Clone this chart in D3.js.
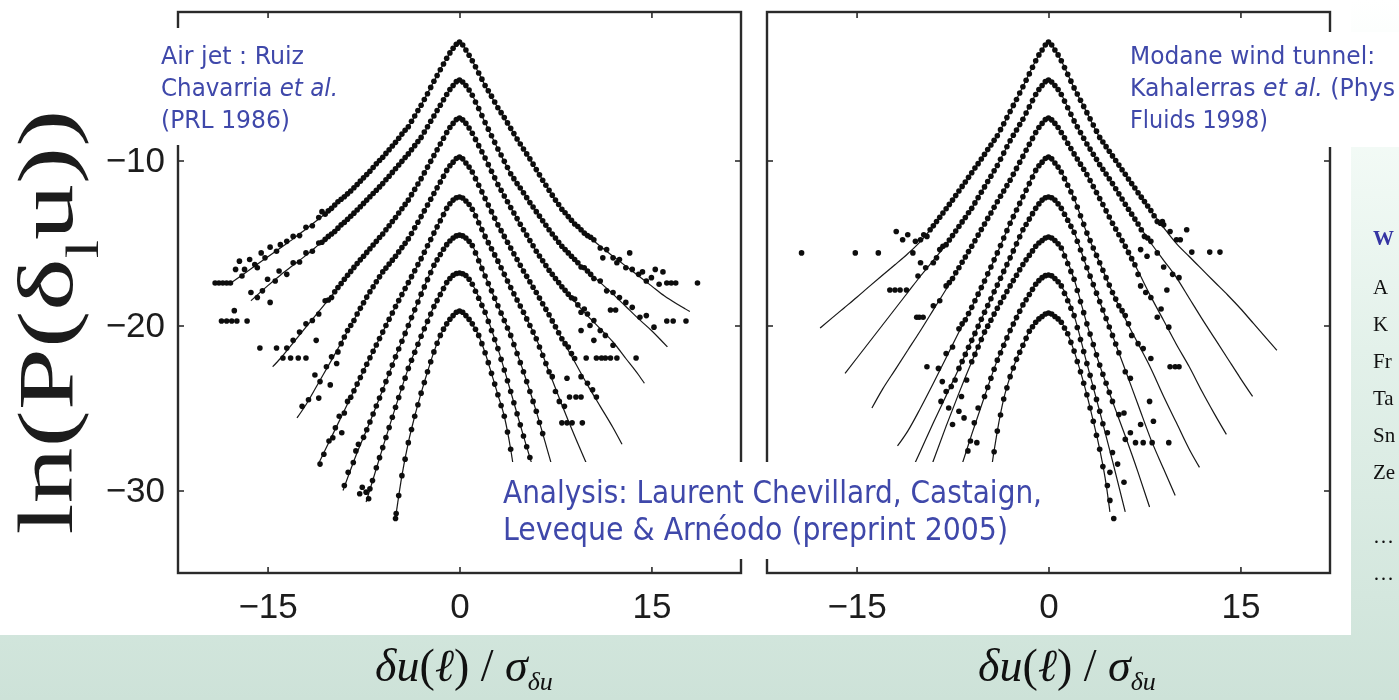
<!DOCTYPE html>
<html>
<head>
<meta charset="utf-8">
<script src="https://cdn.jsdelivr.net/npm/d3@7"></script>
<style>
  html, body { margin: 0; padding: 0; overflow: hidden; background: #fff; }
</style>
</head>
<body>
<svg id="chart" width="1399" height="700"></svg>
<script>
// ---- axes ----
const xDomain = [-22, 22];
const yDomain = [-1, -35];
const xTicks = [-15, 0, 15];
const yTicks = [-10, -20, -30];

// ---- air jet (left panel): fitted curves, one per scale ----
const jetFits = [
  [[-18.1,-17.55],[-17,-16.95],[-16,-16.4],[-15,-15.85],[-14,-15.3],[-13,-14.75],[-12,-14.15],[-11,-13.55],[-10,-12.9],[-9,-12.2],[-8,-11.45],[-7,-10.65],[-6,-9.8],[-5,-8.9],[-4,-7.95],[-3,-6.65],[-2,-5.2],[-1,-3.8],[-0.5,-3.2],[0,-2.82],[0.5,-3.3],[1,-3.95],[2,-5.45],[3,-6.8],[4,-8.05],[5,-9.3],[6,-10.55],[7,-11.8],[8,-12.95],[9,-13.85],[10,-14.55],[11,-15.2],[12,-15.8],[13,-16.4],[14,-17.0],[15,-17.6],[16,-18.2],[17,-18.7],[18,-19.15]],
  [[-16.3,-18.5],[-15,-17.6],[-14,-16.95],[-13,-16.35],[-12,-15.75],[-11,-15.1],[-10,-14.45],[-9,-13.75],[-8,-13.0],[-7,-12.2],[-6,-11.4],[-5,-10.5],[-4,-9.6],[-3,-8.6],[-2,-7.3],[-1,-6.0],[-0.5,-5.45],[0,-5.12],[0.5,-5.45],[1,-6.05],[2,-7.7],[3,-9.3],[4,-10.8],[5,-11.95],[6,-13.1],[7,-14.2],[8,-15.2],[9,-16.0],[10,-16.7],[11,-17.4],[12,-18.1],[13,-18.85],[14,-19.6],[15,-20.3],[16.25,-21.3]],
  [[-14.6,-22.5],[-14,-22.0],[-13,-21.05],[-12,-20.1],[-11,-19.15],[-10,-18.2],[-9,-17.2],[-8,-16.25],[-7,-15.35],[-6,-14.45],[-5,-13.45],[-4,-12.4],[-3,-11.1],[-2,-9.7],[-1,-8.3],[-0.5,-7.75],[0,-7.42],[0.5,-7.75],[1,-8.35],[2,-9.85],[3,-11.45],[4,-12.85],[5,-14.2],[6,-15.5],[7,-16.65],[8,-17.65],[9,-18.55],[10,-19.4],[11,-20.2],[12,-21.0],[13,-22.0],[14,-23.0],[14.45,-23.5]],
  [[-12.7,-25.6],[-12,-24.8],[-11,-23.45],[-10,-22.1],[-9,-20.7],[-8,-19.3],[-7,-17.95],[-6,-16.75],[-5,-15.8],[-4,-14.75],[-3,-13.4],[-2,-12.0],[-1,-10.6],[-0.5,-10.1],[0,-9.79],[0.5,-10.15],[1,-10.7],[2,-12.3],[3,-13.9],[4,-15.3],[5,-16.7],[6,-18.0],[7,-19.35],[8,-20.8],[9,-22.2],[10,-23.6],[11,-24.9],[12,-26.2],[12.7,-27.2]],
  [[-11,-28.35],[-10,-26.75],[-9,-25.15],[-8,-23.55],[-7,-21.95],[-6,-20.4],[-5,-18.85],[-4,-17.4],[-3,-15.95],[-2,-14.4],[-1,-12.9],[-0.5,-12.4],[0,-12.21],[0.5,-12.45],[1,-12.95],[2,-14.6],[3,-16.1],[4,-17.7],[5,-19.2],[6,-20.8],[7,-22.8],[8,-24.8],[9,-26.7],[10,-28.5],[11,-30.3]],
  [[-9.1,-30.0],[-8,-27.7],[-7,-25.85],[-6,-23.9],[-5,-21.9],[-4,-20.0],[-3,-18.1],[-2,-16.35],[-1,-15.1],[-0.5,-14.7],[0,-14.52],[0.5,-14.7],[1,-15.15],[2,-17.0],[3,-18.8],[4,-20.6],[5,-22.8],[6,-25.2],[7,-27.9],[8,-30.6]],
  [[-7.3,-30.7],[-7,-29.95],[-6,-27.4],[-5,-24.95],[-4,-22.6],[-3,-20.65],[-2,-18.85],[-1,-17.4],[-0.5,-16.95],[0,-16.82],[0.5,-16.97],[1,-17.5],[2,-19.2],[3,-21.4],[4,-24.0],[5,-26.7],[6,-29.3],[6.6,-30.8]],
  [[-4.95,-31.4],[-4.5,-29.1],[-4,-27.1],[-3.5,-25.5],[-3,-24.1],[-2.5,-22.8],[-2,-21.6],[-1.5,-20.6],[-1,-19.9],[-0.5,-19.4],[0,-19.12],[0.5,-19.4],[1,-19.9],[1.5,-20.6],[2,-21.65],[2.5,-22.9],[3,-24.2],[3.5,-25.5],[4,-27.5],[4.5,-30.1],[4.9,-32.0]]
];

// measured histogram bins: first bin centre, bin width, ln P per bin
const jetStart = [-9, -9, -9, -8, -9, -7.5, -6.5, -4.75];
const jetStep = [0.25, 0.25, 0.25, 0.25, 0.25, 0.25, 0.25, 0.25];
const jetDots = [
  [-12.2,-12.02,-11.85,-11.65,-11.45,-11.25,-11.05,-10.85,-10.65,-10.42,-10.2,-10.0,-9.8,-9.57,-9.35,-9.12,-8.9,-8.65,-8.4,-8.17,-7.95,-7.62,-7.3,-6.97,-6.65,-6.3,-5.95,-5.57,-5.2,-4.85,-4.5,-4.15,-3.8,-3.48,-3.2,-2.95,-2.82,
   -3.0,-3.3,-3.62,-3.95,-4.32,-4.7,-5.07,-5.45,-5.77,-6.1,-6.45,-6.8,-7.1,-7.4,-7.72,-8.05,-8.37,-8.7,-9.0,-9.3,-9.6,-9.9,-10.22,-10.55,-10.87,-11.2,-11.5,-11.8,-12.1,-12.4,-12.67,-12.95,-13.17,-13.4,-13.62,-13.85],
  [-13.75,-13.56,-13.38,-13.19,-13.0,-12.8,-12.6,-12.4,-12.2,-12.0,-11.8,-11.6,-11.4,-11.17,-10.95,-10.72,-10.5,-10.27,-10.05,-9.82,-9.6,-9.35,-9.1,-8.85,-8.6,-8.27,-7.95,-7.62,-7.3,-6.97,-6.65,-6.32,-6.0,-5.7,-5.45,-5.22,-5.12,
   -5.24,-5.45,-5.73,-6.05,-6.45,-6.85,-7.27,-7.7,-8.1,-8.5,-8.9,-9.3,-9.67,-10.05,-10.42,-10.8,-11.1,-11.4,-11.67,-11.95,-12.25,-12.55,-12.82,-13.1,-13.37,-13.65,-13.92,-14.2,-14.45,-14.7,-14.95,-15.2,-15.4,-15.6,-15.8,-16.0],
  [-17.2,-16.96,-16.72,-16.48,-16.25,-16.02,-15.8,-15.57,-15.35,-15.12,-14.9,-14.67,-14.45,-14.2,-13.95,-13.7,-13.45,-13.18,-12.92,-12.66,-12.4,-12.07,-11.75,-11.42,-11.1,-10.75,-10.4,-10.05,-9.7,-9.35,-9.0,-8.65,-8.3,-8.0,-7.75,-7.52,-7.42,
   -7.54,-7.75,-8.03,-8.35,-8.72,-9.1,-9.47,-9.85,-10.25,-10.65,-11.05,-11.45,-11.8,-12.15,-12.5,-12.85,-13.18,-13.52,-13.86,-14.2,-14.52,-14.85,-15.17,-15.5,-15.79,-16.08,-16.36,-16.65,-16.9,-17.15,-17.4,-17.65,-17.87,-18.1,-18.32,-18.4],
  [-19.3,-18.96,-18.62,-18.28,-17.95,-17.65,-17.35,-17.05,-16.75,-16.52,-16.28,-16.04,-15.8,-15.54,-15.28,-15.02,-14.75,-14.42,-14.08,-13.74,-13.4,-13.05,-12.7,-12.35,-12.0,-11.65,-11.3,-10.95,-10.6,-10.32,-10.1,-9.88,-9.79,
   -9.9,-10.15,-10.4,-10.7,-11.1,-11.5,-11.9,-12.3,-12.7,-13.1,-13.5,-13.9,-14.25,-14.6,-14.95,-15.3,-15.65,-16.0,-16.35,-16.7,-17.02,-17.35,-17.68,-18.0,-18.34,-18.68,-19.02,-19.35,-19.72,-20.08,-20.44,-20.8],
  [-25.3,-24.6,-24.35,-23.95,-23.55,-23.15,-22.75,-22.35,-21.95,-21.56,-21.18,-20.79,-20.4,-20.0,-19.62,-19.24,-18.85,-18.49,-18.12,-17.76,-17.4,-17.04,-16.68,-16.31,-15.95,-15.56,-15.17,-14.79,-14.4,-14.02,-13.65,-13.27,-12.9,-12.62,-12.4,-12.26,-12.21,
   -12.27,-12.45,-12.67,-12.95,-13.35,-13.77,-14.18,-14.6,-14.98,-15.35,-15.72,-16.1,-16.5,-16.9,-17.3,-17.7,-18.08,-18.45,-18.82,-19.2,-19.6,-20.0,-20.4,-20.8,-21.3,-21.8,-22.3,-22.8,-23.1,-24.0],
  [-26.78,-26.32,-25.85,-25.36,-24.88,-24.39,-23.9,-23.4,-22.9,-22.4,-21.9,-21.42,-20.95,-20.48,-20.0,-19.52,-19.05,-18.58,-18.1,-17.66,-17.22,-16.79,-16.35,-16.02,-15.7,-15.38,-15.1,-14.88,-14.7,-14.57,-14.52,
   -14.57,-14.7,-14.9,-15.15,-15.6,-16.08,-16.54,-17.0,-17.45,-17.9,-18.35,-18.8,-19.25,-19.7,-20.15,-20.6,-21.15,-21.7,-22.25,-22.8,-23.4,-24.0,-24.6,-25.2,-25.88,-26.55],
  [-28.62,-28.01,-27.4,-26.79,-26.18,-25.56,-24.95,-24.36,-23.78,-23.19,-22.6,-22.11,-21.62,-21.14,-20.65,-20.2,-19.75,-19.3,-18.85,-18.49,-18.12,-17.76,-17.4,-17.15,-16.95,-16.85,-16.82,
   -16.86,-16.97,-17.2,-17.5,-17.92,-18.35,-18.78,-19.2,-19.75,-20.3,-20.85,-21.4,-22.05,-22.7,-23.35,-24.0,-24.68,-25.35,-26.02,-26.7,-27.35,-28.0],
  [-30.3,-29.1,-28.1,-27.1,-26.3,-25.5,-24.8,-24.1,-23.45,-22.8,-22.2,-21.6,-21.08,-20.6,-20.22,-19.9,-19.62,-19.4,-19.2,-19.12,
   -19.2,-19.4,-19.63,-19.9,-20.23,-20.6,-21.1,-21.65,-22.25,-22.9,-23.55,-24.2,-24.85,-25.5,-26.45,-27.5,-28.8,-30.1]
];
// sparser tail samples (few counts per bin)
const jetScatter = [
  [-13,-14.6],[-12.5,-14.55],[-12,-14.05],[-11.5,-13.95],[-11,-13.45],[-10.75,-13.1],[-10.5,-13.25],[-10.25,-13.05],[-10,-12.9],[-9.75,-12.7],[-9.5,-12.5],[-9.25,-12.35],
  [9.25,-14.0],[9.5,-14.2],[9.75,-14.4],[10,-14.55],[10.25,-14.65],[10.5,-14.8],[11,-15.3],[11.5,-15.4],[12,-15.9],[12.5,-16.0],[13,-16.5],
  [-13.5,-14.9],[-14.0,-15.1],[-14.3,-15.5],[-14.8,-15.25],[-15.2,-15.9],[-15.5,-15.6],[-16.0,-16.3],[-16.4,-16.0],[-16.8,-16.6],[-17.2,-16.1],[-17.5,-16.6],[-17.0,-17.0],[-15.8,-16.5],
  [-17.9,-17.42],[-18.2,-17.42],[-18.5,-17.42],[-18.8,-17.42],[-19.1,-17.42],
  [13.5,-16.6],[14.0,-16.9],[14.3,-16.75],[14.6,-17.3],[15.0,-17.1],[15.3,-16.6],[15.6,-17.5],[15.9,-16.75],[11.2,-15.9],[12.3,-16.2],[13.3,-15.6],
  [16.2,-17.42],[16.55,-17.42],[16.9,-17.42],[18.6,-17.42],
  [-13,-16.2],[-12.5,-16.15],[-12,-15.6],[-11.5,-15.5],[-11,-15.0],[-10.75,-14.95],[-10.5,-14.78],[-10.25,-14.6],[-10,-14.45],[-9.75,-14.3],[-9.5,-14.1],[-9.25,-13.9],
  [9.25,-16.2],[9.5,-16.45],[9.75,-16.5],[10,-16.7],[10.25,-16.9],[10.5,-17.15],[11,-17.3],[11.5,-17.9],[12,-18.0],
  [-13.5,-16.9],[-14.1,-16.7],[-14.4,-17.3],[-15.0,-17.2],[-15.4,-17.9],[-15.8,-18.3],[-16.3,-18.0],[-14.8,-18.6],[-17.6,-19.1],
  [-16.6,-19.73],[-17.4,-19.73],[-17.8,-19.73],[-18.2,-19.73],[-18.6,-19.73],
  [12.5,-18.3],[13.0,-18.6],[13.5,-18.9],[12.2,-19.06],[11.8,-19.06],[14.1,-19.5],[14.6,-19.4],[15.2,-20.1],[16.2,-19.73],[16.7,-19.73],[17.7,-19.73],
  [-11,-19.3],[-10.5,-18.5],[-10.25,-18.45],[-10,-18.3],[-9.75,-17.95],[-9.5,-17.7],[-9.25,-17.45],
  [9.25,-18.75],[9.5,-19.2],[9.75,-19.0],[10,-19.3],
  [-11.5,-19.7],[-12.0,-19.9],[-12.5,-20.4],[-13.0,-20.9],[-11.2,-20.9],[-13.5,-21.36],[-14.3,-21.36],[-15.6,-21.36],
  [-13.8,-21.97],[-13.2,-21.97],[-12.6,-21.97],[-12.0,-21.97],
  [10.5,-19.7],[11.0,-20.3],[9.5,-20.3],[10.2,-20.0],[10.5,-20.9],[11.4,-20.6],[12.0,-21.2],
  [9.9,-21.97],[10.7,-21.97],[11.1,-21.97],[11.4,-21.97],[11.8,-21.97],[12.3,-21.97],[13.8,-21.97],
  [-10,-21.9],[-9.5,-21.6],[-9.25,-21.1],[-9,-20.7],[-8.75,-20.3],[-8.5,-20.0],[-8.25,-19.7],
  [8.25,-21.1],[8.5,-21.3],[8.75,-21.7],[9,-22.0],[9.5,-23.1],
  [-10.4,-22.5],[-10.9,-23.4],[-11.3,-23.0],[-9.6,-22.3],[-10.1,-23.6],[-11.8,-24.5],[-12.3,-24.9],[-11.0,-24.4],
  [10.0,-23.5],[10.4,-23.9],[8.4,-23.2],[8.6,-24.33],[9.1,-24.33],[9.5,-24.33],[10.7,-24.33],
  [-9.4,-25.5],[-9.7,-26.2],[-9.9,-26.8],[-10.2,-27.0],[-10.6,-27.8],[-10.9,-28.4],[-9.2,-26.5],
  [7.8,-24.6],[8.2,-24.9],[8.0,-25.9],[8.4,-25.9],[8.8,-25.9],[9.6,-25.9],
  [-7.9,-27.2],[-8.3,-28.3],[-8.7,-28.9],[-9.0,-29.7],[-8.1,-27.6],
  [-6.8,-29.4],[-7.0,-29.9],[-7.3,-30.1],[-7.6,-29.8],[-7.8,-30.2],[-7.1,-30.5],
  [-4.95,-31.4],[-5.0,-31.7]
];

// ---- Modane wind tunnel (right panel) ----
const modaneFits = [
  [[-17.85,-20.15],[-17,-19.6],[-16,-18.95],[-15,-18.3],[-14,-17.63],[-13,-16.97],[-12,-16.32],[-11,-15.65],[-10,-14.9],[-9,-13.96],[-8,-12.92],[-7,-11.85],[-6,-10.74],[-5,-9.63],[-4,-8.5],[-3,-7.03],[-2,-5.53],[-1,-3.95],[-0.5,-3.3],[0,-2.82],[0.5,-3.3],[1,-3.95],[2,-5.6],[3,-7.1],[4,-8.6],[5,-9.72],[6,-10.84],[7,-11.95],[8,-13.03],[9,-14.07],[10,-15.04],[11,-15.82],[12,-16.6],[13,-17.38],[14,-18.15],[15,-18.97],[16,-19.86],[17,-20.75],[17.85,-21.5]],
  [[-15.9,-22.9],[-15,-22.0],[-14,-21.0],[-13,-20.0],[-12,-19.0],[-11,-18.0],[-10,-17.0],[-9,-16.05],[-8,-15.1],[-7,-14.0],[-6,-12.9],[-5,-11.6],[-4,-10.3],[-3,-8.8],[-2,-7.5],[-1,-6.0],[-0.5,-5.45],[0,-5.12],[0.5,-5.45],[1,-6.0],[2,-7.6],[3,-9.0],[4,-10.25],[5,-11.4],[6,-12.65],[7,-13.85],[8,-15.0],[9,-16.05],[10,-17.1],[11,-18.35],[12,-19.6],[13,-20.8],[14,-22.0],[15,-23.2],[15.95,-24.3]],
  [[-13.8,-25.0],[-13,-23.9],[-12,-22.7],[-11,-21.5],[-10,-20.3],[-9,-19.05],[-8,-17.8],[-7,-16.5],[-6,-15.2],[-5,-13.85],[-4,-12.5],[-3,-11.2],[-2,-9.75],[-1,-8.3],[-0.5,-7.75],[0,-7.42],[0.5,-7.75],[1,-8.3],[2,-9.6],[3,-10.85],[4,-12.3],[5,-13.8],[6,-15.2],[7,-16.7],[8,-18.25],[9,-19.7],[10,-21.15],[11,-22.5],[12,-24.0],[13,-25.4],[13.9,-26.6]],
  [[-11.8,-27.3],[-11,-26.4],[-10,-25.0],[-9,-23.5],[-8,-21.95],[-7,-20.4],[-6,-18.9],[-5,-17.3],[-4,-15.6],[-3,-13.8],[-2,-12.2],[-1,-10.6],[-0.5,-10.1],[0,-9.79],[0.5,-10.15],[1,-10.7],[2,-12.3],[3,-14.4],[4,-16.2],[5,-18.0],[6,-19.6],[7,-21.1],[8,-22.6],[9,-24.3],[10,-25.9],[11,-27.5],[11.8,-28.6]],
  [[-11.5,-30.2],[-11,-29.3],[-10,-27.6],[-9,-25.9],[-8,-24.25],[-7,-22.6],[-6,-20.9],[-5,-19.2],[-4,-17.55],[-3,-15.9],[-2,-14.2],[-1,-12.9],[-0.5,-12.4],[0,-12.21],[0.5,-12.4],[1,-12.9],[2,-14.35],[3,-16.5],[4,-18.55],[5,-20.6],[6,-22.7],[7,-24.8],[8,-26.9],[9,-28.7],[9.9,-30.3]],
  [[-10,-30.4],[-9,-28.2],[-8,-26.1],[-7,-24.1],[-6,-22.2],[-5,-20.4],[-4,-18.95],[-3,-17.6],[-2,-16.3],[-1,-15.2],[-0.5,-14.85],[0,-14.64],[0.5,-14.85],[1,-15.3],[2,-17.2],[3,-19.9],[4,-22.4],[5,-24.6],[6,-26.7],[7,-28.9],[7.9,-31.0]],
  [[-8,-31.5],[-7,-29.0],[-6,-26.6],[-5,-24.3],[-4,-22.1],[-3,-20.3],[-2,-18.75],[-1,-17.5],[-0.5,-17.1],[0,-16.94],[0.5,-17.15],[1,-17.6],[2,-19.4],[3,-22.3],[4,-25.2],[5,-28.2],[6,-31.3]],
  [[-4.9,-31.5],[-4.5,-28.9],[-4,-26.4],[-3.5,-24.45],[-3,-23.1],[-2.5,-22.05],[-2,-21.2],[-1.5,-20.35],[-1,-19.8],[-0.5,-19.45],[0,-19.24],[0.5,-19.45],[1,-19.8],[1.5,-20.5],[2,-21.55],[2.5,-22.8],[3,-24.2],[3.5,-25.8],[4,-27.5],[4.5,-29.6],[4.8,-31.3]]
];
const modaneStart = [-9, -8, -7, -6.5, -7, -6, -5, -4.25];
const modaneStep = [0.25, 0.25, 0.25, 0.25, 0.25, 0.25, 0.25, 0.25];
const modaneDots = [
  [-13.96,-13.7,-13.44,-13.18,-12.92,-12.66,-12.4,-12.12,-11.85,-11.57,-11.3,-11.02,-10.74,-10.46,-10.19,-9.91,-9.63,-9.34,-9.06,-8.78,-8.5,-8.13,-7.77,-7.4,-7.03,-6.66,-6.3,-5.91,-5.53,-5.14,-4.75,-4.35,-3.95,-3.6,-3.3,-3.0,-2.82,
   -3.0,-3.3,-3.6,-3.95,-4.37,-4.78,-5.19,-5.6,-5.97,-6.35,-6.72,-7.1,-7.47,-7.85,-8.22,-8.6,-8.88,-9.16,-9.44,-9.72,-10.0,-10.28,-10.56,-10.84,-11.12,-11.4,-11.67,-11.95,-12.22,-12.49,-12.76,-13.03,-13.35,-13.7,-13.8,-13.9],
  [-15.1,-14.82,-14.55,-14.27,-14.0,-13.72,-13.45,-13.17,-12.9,-12.57,-12.25,-11.92,-11.6,-11.27,-10.95,-10.62,-10.3,-9.92,-9.55,-9.17,-8.8,-8.47,-8.15,-7.82,-7.5,-7.12,-6.75,-6.37,-6.0,-5.7,-5.45,-5.22,-5.12,
   -5.24,-5.45,-5.7,-6.0,-6.4,-6.8,-7.2,-7.6,-7.95,-8.3,-8.65,-9.0,-9.31,-9.62,-9.93,-10.25,-10.53,-10.82,-11.11,-11.4,-11.71,-12.02,-12.33,-12.65,-12.95,-13.25,-13.55,-13.85,-14.2,-14.6,-14.7,-14.9],
  [-16.5,-16.17,-15.85,-15.52,-15.2,-14.86,-14.52,-14.18,-13.85,-13.51,-13.18,-12.84,-12.5,-12.17,-11.85,-11.52,-11.2,-10.84,-10.48,-10.11,-9.75,-9.38,-9.02,-8.66,-8.3,-8.0,-7.75,-7.52,-7.42,
   -7.54,-7.75,-8.0,-8.3,-8.62,-8.95,-9.27,-9.6,-9.91,-10.22,-10.53,-10.85,-11.21,-11.58,-11.94,-12.3,-12.67,-13.05,-13.42,-13.8,-14.15,-14.5,-14.85,-15.2,-15.57,-15.95,-16.32,-16.9],
  [-19.65,-19.27,-18.9,-18.5,-18.1,-17.7,-17.3,-16.87,-16.45,-16.02,-15.6,-15.15,-14.7,-14.25,-13.8,-13.4,-13.0,-12.6,-12.2,-11.8,-11.4,-11.0,-10.6,-10.32,-10.1,-9.88,-9.79,
   -9.9,-10.15,-10.4,-10.7,-11.1,-11.5,-11.9,-12.3,-12.82,-13.35,-13.87,-14.4,-14.85,-15.3,-15.75,-16.2,-16.65,-17.1,-17.55,-18.0,-18.4,-18.8,-19.1,-19.4],
  [-22.6,-22.18,-21.75,-21.32,-20.9,-20.48,-20.05,-19.62,-19.2,-18.79,-18.38,-17.96,-17.55,-17.14,-16.72,-16.31,-15.9,-15.48,-15.05,-14.62,-14.2,-13.88,-13.55,-13.22,-12.9,-12.63,-12.4,-12.26,-12.21,
   -12.26,-12.4,-12.63,-12.9,-13.26,-13.62,-13.99,-14.35,-14.89,-15.42,-15.96,-16.5,-17.01,-17.52,-18.04,-18.55,-19.06,-19.58,-20.09,-20.6,-21.12,-21.65],
  [-22.2,-21.75,-21.3,-20.85,-20.4,-20.04,-19.68,-19.31,-18.95,-18.61,-18.28,-17.94,-17.6,-17.28,-16.95,-16.62,-16.3,-16.02,-15.75,-15.48,-15.2,-15.0,-14.85,-14.7,-14.64,
   -14.7,-14.85,-15.05,-15.3,-15.78,-16.25,-16.72,-17.2,-17.88,-18.55,-19.22,-19.9,-20.52,-21.15,-21.78,-22.4,-22.95,-23.5,-24.05,-24.6],
  [-24.3,-23.75,-23.2,-22.65,-22.1,-21.65,-21.2,-20.75,-20.3,-19.91,-19.52,-19.14,-18.75,-18.44,-18.12,-17.81,-17.5,-17.28,-17.1,-16.98,-16.94,
   -16.99,-17.15,-17.35,-17.6,-18.05,-18.5,-18.95,-19.4,-20.12,-20.85,-21.58,-22.3,-23.02,-23.75,-24.48,-25.2,-25.95],
  [-27.65,-26.4,-25.42,-24.45,-23.78,-23.1,-22.58,-22.05,-21.62,-21.2,-20.78,-20.35,-20.08,-19.8,-19.6,-19.45,-19.3,-19.24,
   -19.3,-19.45,-19.6,-19.8,-20.15,-20.5,-21.02,-21.55,-22.18,-22.8,-23.5,-24.2,-25.0,-25.8,-26.65,-27.5,-28.55]
];
const modaneScatter = [
  [-10,-14.8],[-9.75,-14.5],[-9.5,-14.6],[-9.25,-14.2],
  [-19.3,-15.6],[-15.1,-15.6],[-13.3,-15.6],[-10.6,-15.6],[-11.9,-14.3],[-11.4,-14.8],[-11.0,-14.5],[-10.4,-14.9],
  [9.5,-14.3],[10.0,-14.8],[10.3,-14.8],[10.8,-14.2],[8.9,-13.7],[11.2,-15.55],[12.6,-15.55],[13.4,-15.55],
  [-9,-16.2],[-8.75,-15.9],[-8.5,-15.4],[-8.25,-15.2],
  [-12.4,-17.85],[-12.0,-17.85],[-11.6,-17.85],[-11.1,-17.85],[-10.2,-17.0],[-9.6,-16.5],[-10.0,-16.2],
  [8.5,-15.6],[9.0,-16.45],[9.7,-16.9],[10.2,-17.1],[9.25,-17.85],[7.2,-15.4],[7.7,-15.8],
  [-8,-17.6],[-7.75,-17.4],[-7.5,-17.15],[-7.25,-16.8],
  [-8.5,-18.5],[-9.0,-18.8],[-9.8,-19.5],[-10.1,-19.5],[-10.3,-19.5],
  [7.2,-17.6],[7.6,-18.0],[8.0,-18.3],[8.5,-19.5],[8.8,-19.0],[9.4,-20.1],
  [-7,-20.2],[-6.75,-19.9],[6.25,-19.9],[6.5,-20.6],
  [-7.5,-21.3],[-8.0,-21.7],[-8.6,-22.6],[-9.5,-22.5],[-8.3,-23.4],
  [7.0,-21.1],[7.4,-21.4],[8.0,-22.0],[9.5,-22.5],[9.9,-22.5],[10.2,-22.5],
  [-7.3,-23.3],[-7.6,-23.7],[-8.0,-24.0],[-7.8,-25.0],[-8.4,-24.6],
  [6.0,-22.8],[6.4,-23.2],[7.9,-24.6],[8.2,-25.8],[6.8,-27.1],[7.4,-27.1],[8.1,-27.1],[9.4,-27.1],
  [-6.4,-23.3],[-6.8,-24.3],[-7.0,-25.2],[-7.5,-26.0],[-6.6,-25.6],
  [5.5,-25.4],[5.9,-25.3],[6.4,-26.5],[7.2,-26.0],[6.0,-26.9],
  [-5.5,-25.0],[-5.8,-25.9],[-6.1,-27.0],[-6.3,-27.6],[-5.6,-27.1],
  [4.6,-26.5],[5.0,-27.7],[5.4,-28.4],[5.9,-29.5],[4.8,-28.9],
  [-4.6,-28.9],[-4.9,-30.5],
  [4.6,-29.7],[5.1,-31.7],[4.8,-30.6]
];

// ---- slide text ----
const jetNote = ["Air jet : Ruiz", "Chavarria ", "et al.", "(PRL 1986)"];
const modaneNote = ["Modane wind tunnel:", "Kahalerras ", "et al.", " (Phys", "Fluids 1998)"];
const analysisNote = ["Analysis: Laurent Chevillard, Castaign,", "Leveque & Arnéodo (preprint 2005)"];
const sideHeading = "W";
const sideItems = ["A", "K", "Fr", "Ta", "Sn", "Ze", "…", "…"];

// ---------------------------------------------------------------
const svg = d3.select("#chart");
const defs = svg.append("defs");

const grad = defs.append("linearGradient").attr("id", "slideBg")
  .attr("x1", 0).attr("y1", 0).attr("x2", 0).attr("y2", 1);
[[0, "#ffffff"], [0.18, "#f4fbf7"], [0.5, "#e3f1ea"], [0.85, "#d4e7de"], [1, "#cde2d8"]]
  .forEach(([o, c]) => grad.append("stop").attr("offset", o).attr("stop-color", c));

defs.append("filter").attr("id", "soft")
  .attr("x", "-5%").attr("y", "-5%").attr("width", "110%").attr("height", "110%")
  .append("feGaussianBlur").attr("stdDeviation", 0.6);

// slide background and the white figure area
svg.append("rect").attr("width", 1399).attr("height", 700).attr("fill", "url(#slideBg)");
svg.append("rect").attr("width", 1351).attr("height", 635).attr("fill", "#ffffff");

const plotTop = 12, plotBottom = 573;
const y = d3.scaleLinear().domain(yDomain).range([plotTop, plotBottom]);

const figure = svg.append("g").attr("filter", "url(#soft)");

const panels = [
  { left: 178, right: 741, fits: jetFits, start: jetStart, step: jetStep, dots: jetDots, scatter: jetScatter, yLabels: true },
  { left: 767, right: 1330, fits: modaneFits, start: modaneStart, step: modaneStep, dots: modaneDots, scatter: modaneScatter, yLabels: false }
];

const tickFont = "'Liberation Sans', Arial, Helvetica, sans-serif";

function styleAxis(sel, withText) {
  sel.select(".domain").remove();
  sel.selectAll(".tick line").attr("stroke", "#2a2a2a").attr("stroke-width", 1.6);
  sel.selectAll(".tick text")
    .attr("font-family", tickFont).attr("font-size", 35).attr("fill", "#1c1c1c");
  if (!withText) sel.selectAll(".tick text").remove();
}

panels.forEach(p => {
  const x = d3.scaleLinear().domain(xDomain).range([p.left, p.right]);
  const g = figure.append("g");

  // fitted curves
  const line = d3.line().x(d => x(d[0])).y(d => y(d[1])).curve(d3.curveMonotoneX);
  g.selectAll("path.fit").data(p.fits).join("path")
    .attr("class", "fit").attr("d", line)
    .attr("fill", "none").attr("stroke", "#161616").attr("stroke-width", 1.2);

  // measured points
  const pts = [];
  p.dots.forEach((ys, k) => ys.forEach((v, i) => pts.push([p.start[k] + i * p.step[k], v])));
  p.scatter.forEach(d => pts.push(d));
  g.selectAll("circle.pt").data(pts).join("circle")
    .attr("class", "pt")
    .attr("cx", d => x(d[0])).attr("cy", d => y(d[1]))
    .attr("r", 2.8).attr("fill", "#111");

  // box frame
  g.append("rect")
    .attr("x", p.left).attr("y", plotTop)
    .attr("width", p.right - p.left).attr("height", plotBottom - plotTop)
    .attr("fill", "none").attr("stroke", "#2a2a2a").attr("stroke-width", 2.4);

  // inward ticks on all four sides
  g.append("g").attr("transform", `translate(0,${plotBottom})`)
    .call(d3.axisBottom(x).tickValues(xTicks).tickSizeInner(-6).tickSizeOuter(0).tickPadding(20))
    .call(s => styleAxis(s, true));
  g.append("g").attr("transform", `translate(0,${plotTop})`)
    .call(d3.axisTop(x).tickValues(xTicks).tickSizeInner(-6).tickSizeOuter(0))
    .call(s => styleAxis(s, false));
  g.append("g").attr("transform", `translate(${p.left},0)`)
    .call(d3.axisLeft(y).tickValues(yTicks).tickSizeInner(-6).tickSizeOuter(0).tickPadding(13))
    .call(s => styleAxis(s, p.yLabels));
  g.append("g").attr("transform", `translate(${p.right},0)`)
    .call(d3.axisRight(y).tickValues(yTicks).tickSizeInner(-6).tickSizeOuter(0))
    .call(s => styleAxis(s, false));
});

// y axis title: ln(P(δ_l u))
const yTitle = figure.append("text")
  .attr("transform", "translate(72,322) rotate(-90)")
  .attr("text-anchor", "middle")
  .attr("font-family", "'Liberation Serif', 'Times New Roman', serif")
  .attr("font-size", 78).attr("fill", "#1a1a1a")
  .attr("textLength", 425).attr("lengthAdjust", "spacingAndGlyphs");
yTitle.append("tspan").text("ln(P(δ");
yTitle.append("tspan").attr("font-size", 46).attr("dy", 26).text("l");
yTitle.append("tspan").attr("dy", -26).text("u))");

// ---- annotation boxes ----
const noteFont = "'DejaVu Sans Condensed', 'DejaVu Sans', Verdana, sans-serif";
const noteColor = "#3f48aa";

function noteLine(x, yb, size, width) {
  return svg.append("text").attr("x", x).attr("y", yb)
    .attr("font-family", noteFont).attr("font-stretch", "condensed")
    .attr("font-size", size).attr("fill", noteColor)
    .attr("textLength", width).attr("lengthAdjust", "spacingAndGlyphs");
}

svg.append("rect").attr("x", 152).attr("y", 28).attr("width", 200).attr("height", 117).attr("fill", "#fff");
noteLine(161, 64, 25.5, 143).text(jetNote[0]);
const jl2 = noteLine(161, 96, 25.5, 177);
jl2.append("tspan").text(jetNote[1]);
jl2.append("tspan").attr("font-style", "italic").text(jetNote[2]);
noteLine(161, 128, 25.5, 129).text(jetNote[3]);

svg.append("rect").attr("x", 1122).attr("y", 32).attr("width", 277).attr("height", 115).attr("fill", "#fff");
noteLine(1130, 64, 25.5, 245).text(modaneNote[0]);
const ml2 = noteLine(1130, 96, 25.5, 265);
ml2.append("tspan").text(modaneNote[1]);
ml2.append("tspan").attr("font-style", "italic").text(modaneNote[2]);
ml2.append("tspan").text(modaneNote[3]);
noteLine(1130, 128, 25.5, 138).text(modaneNote[4]);

svg.append("rect").attr("x", 496).attr("y", 462).attr("width", 557).attr("height", 97).attr("fill", "#fff");
noteLine(503, 503, 32, 539).text(analysisNote[0]);
noteLine(503, 540, 32, 505).text(analysisNote[1]);

// ---- x axis titles: δu(ℓ) / σ_δu ----
function xTitle(x0) {
  const t = svg.append("text").attr("x", x0).attr("y", 681)
    .attr("font-family", "'Liberation Serif', 'Times New Roman', serif")
    .attr("font-size", 46).attr("fill", "#111");
  t.append("tspan").attr("font-style", "italic").text("δu");
  t.append("tspan").text("(");
  t.append("tspan").attr("font-style", "italic").text("ℓ");
  t.append("tspan").text(") / ");
  t.append("tspan").attr("font-style", "italic").text("σ");
  t.append("tspan").attr("font-style", "italic").attr("font-size", 26).attr("dy", 9).text("δu");
}
xTitle(375);
xTitle(978);

// ---- side column at the slide edge ----
const sideFont = "'Liberation Serif', 'Times New Roman', serif";
const sideX = 1373;
svg.append("text").attr("x", sideX).attr("y", 245)
  .attr("font-family", sideFont).attr("font-weight", "bold")
  .attr("font-size", 21).attr("fill", "#3535a3").text(sideHeading);
const sideBase = [294, 331, 368, 405, 442, 479, 543, 580];
svg.selectAll("text.side").data(sideItems).join("text")
  .attr("class", "side")
  .attr("x", sideX).attr("y", (d, i) => sideBase[i])
  .attr("font-family", sideFont).attr("font-size", 21).attr("fill", "#111")
  .text(d => d);
</script>
</body>
</html>
